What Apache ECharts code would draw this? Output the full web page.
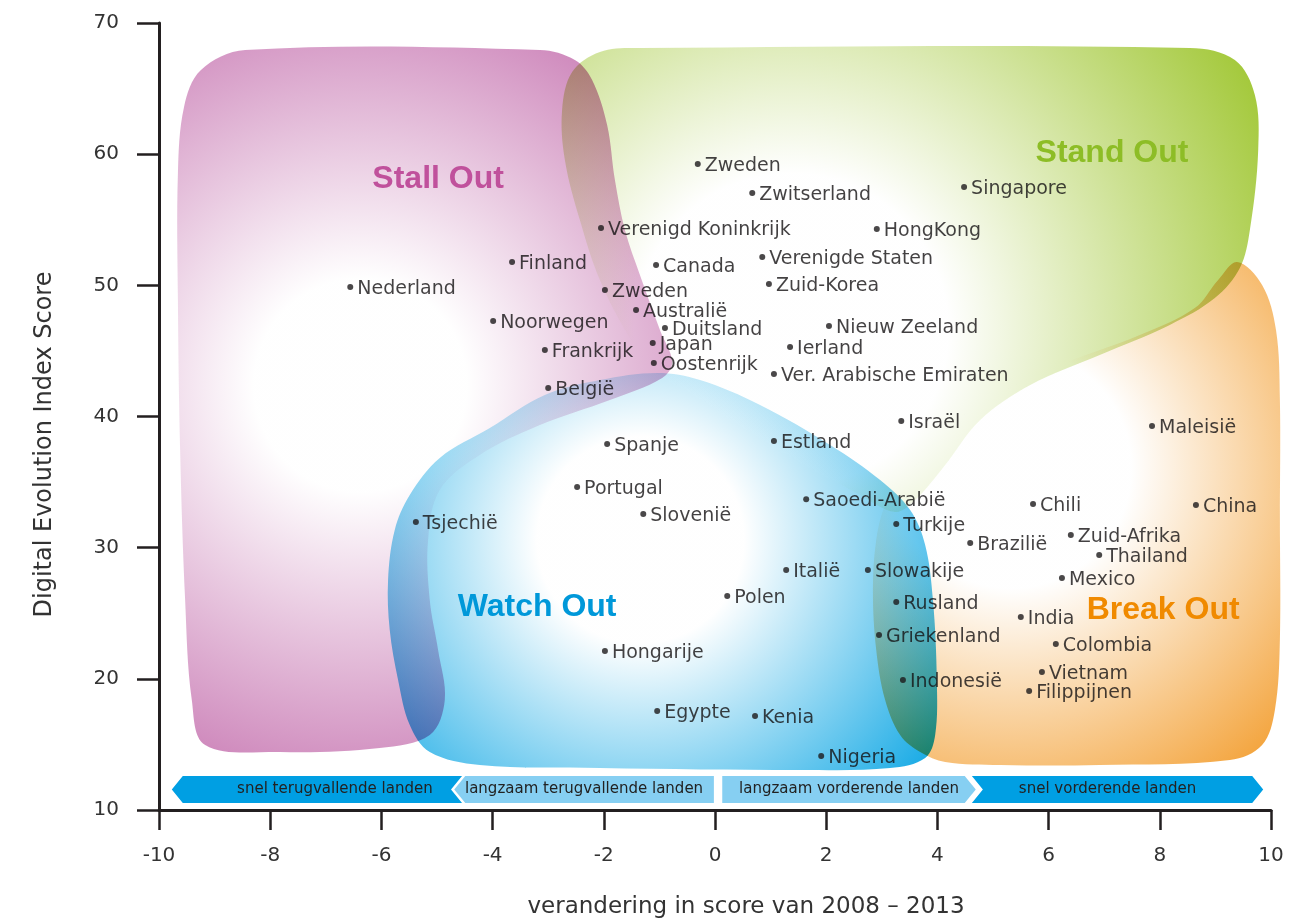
<!DOCTYPE html>
<html>
<head>
<meta charset="utf-8">
<title>Digital Evolution Index</title>
<script src="https://cdn.jsdelivr.net/npm/echarts@6/dist/echarts.min.js"></script>
<style>
	html, body { margin: 0; padding: 0; background: #fff; }
	#chart { width: 1291px; height: 921px; }
</style>
</head>
<body>
<div id="chart"></div>
<script>
// landen + scores (x = verandering 2008-2013, y = DEI score)
const countries = ['Zweden', 'Zwitserland', 'Singapore', 'Verenigd Koninkrijk', 'HongKong', 'Verenigde Staten',
	'Finland', 'Canada', 'Nederland', 'Zuid-Korea', 'Zweden', 'Australië', 'Noorwegen', 'Duitsland',
	'Nieuw Zeeland', 'Japan', 'Ierland', 'Frankrijk', 'Oostenrijk', 'Ver. Arabische Emiraten', 'België',
	'Israël', 'Maleisië', 'Spanje', 'Estland', 'Portugal', 'Saoedi-Arabië', 'Chili', 'China', 'Slovenië',
	'Tsjechië', 'Turkije', 'Zuid-Afrika', 'Brazilië', 'Thailand', 'Italië', 'Slowakije', 'Mexico',
	'Rusland', 'Polen', 'India', 'Griekenland', 'Colombia', 'Hongarije', 'Vietnam', 'Indonesië',
	'Filippijnen', 'Egypte', 'Kenia', 'Nigeria'];
const xValues = [-0.31, 0.67, 4.48, -2.05, 2.91, 0.85,
	-3.65, -1.06, -6.56, 0.97, -1.98, -1.42, -3.99, -0.90,
	2.05, -1.12, 1.35, -3.06, -1.10, 1.06, -3.00,
	3.35, 7.86, -1.94, 1.06, -2.48, 1.64, 5.72, 8.65, -1.29,
	-5.38, 3.26, 6.40, 4.59, 6.91, 1.28, 2.75, 6.24,
	3.26, 0.22, 5.50, 2.95, 6.13, -1.98, 5.88, 3.38,
	5.65, -1.04, 0.72, 1.91];
const yValues = [59.25, 57.04, 57.5, 54.37, 54.3, 52.16,
	51.78, 51.55, 49.87, 50.1, 49.65, 48.12, 47.28, 46.75,
	46.9, 45.6, 45.3, 45.07, 44.08, 43.24, 42.17,
	39.66, 39.28, 37.9, 38.13, 34.63, 33.7, 33.33, 33.25, 32.57,
	31.96, 31.8, 30.97, 30.36, 29.44, 28.3, 28.3, 27.69,
	25.86, 26.32, 24.72, 23.34, 22.66, 22.12, 20.52, 19.91,
	19.07, 17.55, 17.17, 14.12];

// de vier gebieden
const regionNames = ['Stall Out', 'Stand Out', 'Watch Out', 'Break Out'];
const regionX = [-4.98, 7.14, -3.20, 8.06];
const regionY = [58.1, 60.1, 25.5, 25.2];
const stallOutShape = [[-8.45, 67.94], [-3.15, 67.94], [-2.52, 67.18], [-2.21, 65.65], [-1.94, 62.22],
	[-1.80, 58.03], [-1.62, 54.22], [-1.35, 50.79], [-0.99, 46.60], [-0.77, 44.16], [-0.95, 42.94],
	[-1.89, 41.26], [-3.15, 39.35], [-4.23, 37.07], [-4.95, 34.40], [-5.16, 30.59], [-5.13, 26.01],
	[-4.98, 22.20], [-4.86, 18.39], [-5.13, 15.72], [-6.03, 14.73], [-7.82, 14.42], [-9.17, 14.96],
	[-9.41, 18.39], [-9.53, 26.01], [-9.62, 37.45], [-9.66, 48.88], [-9.66, 58.5], [-9.55, 63.6],
	[-9.25, 66.4]];
const standOutShape = [[-1.35, 68.09], [8.54, 68.09], [9.35, 67.18], [9.71, 64.51], [9.77, 60.32],
	[9.62, 54.22], [9.44, 51.32], [8.99, 49.03], [8.18, 46.98], [6.92, 44.69], [5.67, 42.40],
	[4.77, 39.73], [4.14, 36.30], [3.60, 33.63], [3.24, 32.72], [2.61, 34.02], [1.53, 36.53],
	[0.45, 39.35], [-0.45, 41.87], [-1.04, 43.32], [-1.53, 45.99], [-2.07, 50.41], [-2.43, 54.98],
	[-2.70, 59.56], [-2.75, 63.37], [-2.57, 66.26], [-2.07, 67.79]];
const watchOutShape = [[-1.04, 43.32], [-0.27, 42.78], [0.81, 40.88], [2.07, 37.83], [2.97, 35.16],
	[3.51, 32.87], [3.78, 30.21], [3.92, 26.01], [3.99, 19.91], [3.96, 15.72], [3.78, 13.97],
	[3.15, 13.20], [1.53, 13.05], [-2.07, 13.20], [-4.23, 13.43], [-5.13, 14.42], [-5.49, 16.48],
	[-5.70, 19.91], [-5.85, 23.72], [-5.88, 27.54], [-5.76, 31.35], [-5.49, 34.02], [-4.95, 36.84],
	[-4.05, 39.12], [-3.06, 41.64], [-2.07, 42.78]];
const breakOutShape = [[9.39, 51.78], [9.84, 50.03], [10.09, 46.60], [10.16, 41.26], [10.16, 32.11],
	[10.16, 22.96], [10.07, 17.63], [9.84, 14.96], [9.26, 13.81], [6.92, 13.43], [5.13, 13.43],
	[4.14, 13.66], [3.69, 14.42], [3.33, 15.72], [3.06, 18.39], [2.90, 22.20], [2.84, 26.77],
	[2.90, 30.59], [3.06, 33.25], [3.33, 35.01], [3.69, 36.68], [4.23, 39.35], [5.13, 41.79],
	[6.21, 43.93], [7.64, 46.21], [8.63, 48.27], [9.05, 50.41]];

// balk onderaan
const bandLabels = ['snel terugvallende landen', 'langzaam terugvallende landen', 'langzaam vorderende landen', 'snel vorderende landen'];
const bandFrom = [-9.77, -4.69, 0.13, 4.62];
const bandTo = [-4.55, -0.02, 4.69, 9.86];

const shapes = [stallOutShape, standOutShape, watchOutShape, breakOutShape];
const regionStyle = [
	{color: '#c673b0', text: '#c0519c', cx: 0.37, cy: 0.48, r: 0.86, start: 0.25},
	{color: '#9dc52c', text: '#8dbd26', cx: 0.33, cy: 0.61, r: 1.12, start: 0.3},
	{color: '#00a2e3', text: '#0098d9', cx: 0.46, cy: 0.42, r: 0.93, start: 0.28},
	{color: '#f2951c', text: '#f08a00', cx: 0.34, cy: 0.41, r: 0.98, start: 0.3},
];
const bandDark = '#009fe3';
const bandLight = '#86cff2';
const FONT = '"DejaVu Sans", sans-serif';

let chart = echarts.init(document.getElementById('chart'));

let points = countries.map((c, i) => ({name: c, value: [xValues[i], yValues[i]]}));

let renderRegion = (params, api) => {
	let i = params.dataIndex;
	let st = regionStyle[i];
	let pts = shapes[i].map(p => api.coord(p));
	return {
		type: 'polygon',
		shape: {points: pts, smooth: 0.35},
		style: {
			fill: new echarts.graphic.RadialGradient(st.cx, st.cy, st.r, [
				{offset: 0, color: '#ffffff'},
				{offset: st.start, color: '#ffffff'},
				{offset: 1, color: st.color},
			]),
			opacity: 0.92,
		},
	};
};

let renderTitle = (params, api) => {
	let i = params.dataIndex;
	let pos = api.coord([api.value(0), api.value(1)]);
	return {
		type: 'text',
		x: pos[0],
		y: pos[1],
		style: {
			text: regionNames[i],
			fill: regionStyle[i].text,
			font: 'bold 32px "Liberation Sans", Arial, sans-serif',
			align: 'center',
			verticalAlign: 'middle',
		},
	};
};

let renderBand = (params, api) => {
	let i = params.dataIndex;
	let x0 = api.coord([api.value(0), 10])[0];
	let x1 = api.coord([api.value(1), 10])[0];
	let base = api.coord([0, 10])[1];
	let top = base - 34, bottom = base - 7, mid = (top + bottom) / 2;
	let d = 11;
	let left, right;
	// vorm van de pijlen per segment
	if (i === 0 || i === 1) left = [[x0 + d, top], [x0, mid], [x0 + d, bottom]];
	else if (i === 3) left = [[x0, top], [x0 + d, mid], [x0, bottom]];
	else left = [[x0, top], [x0, bottom]];
	if (i === 2 || i === 3) right = [[x1 - d, bottom], [x1, mid], [x1 - d, top]];
	else if (i === 0) right = [[x1, bottom], [x1 - d, mid], [x1, top]];
	else right = [[x1, bottom], [x1, top]];
	let pts = left.concat(right);
	let dark = (i === 0 || i === 3);
	return {
		type: 'group',
		children: [
			{type: 'polygon', shape: {points: pts}, style: {fill: dark ? bandDark : bandLight}},
			{
				type: 'text',
				x: (x0 + x1) / 2 + (i === 0 ? 18 : 0) + (i === 3 ? -10 : 0),
				y: mid,
				style: {
					text: bandLabels[i],
					fill: '#222',
					font: '15px ' + FONT,
					align: 'center',
					verticalAlign: 'middle',
				},
			},
		],
	};
};

let option = {
	animation: false,
	grid: {left: 159, right: 20, top: 23, bottom: 111, containLabel: false, outerBoundsMode: 'none'},
	xAxis: {
		type: 'value',
		min: -10,
		max: 10,
		interval: 2,
		name: 'verandering in score van 2008 – 2013',
		nameLocation: 'middle',
		nameGap: 86,
		nameTextStyle: {color: '#333', fontSize: 23, fontFamily: FONT, padding: [0, 0, 0, 62]},
		axisLine: {onZero: false, lineStyle: {color: '#231f20', width: 3}},
		axisTick: {length: 20, lineStyle: {color: '#231f20', width: 2.5}},
		axisLabel: {color: '#333', fontSize: 20, fontFamily: FONT, margin: 36},
		splitLine: {show: false},
	},
	yAxis: {
		type: 'value',
		min: 10,
		max: 70,
		interval: 10,
		name: 'Digital Evolution Index Score',
		nameLocation: 'middle',
		nameGap: 102,
		nameTextStyle: {color: '#333', fontSize: 24, fontFamily: FONT, padding: [0, 56, 0, 0]},
		axisLine: {show: true, onZero: false, lineStyle: {color: '#231f20', width: 3}},
		axisTick: {show: true, length: 22, lineStyle: {color: '#231f20', width: 2.5}},
		axisLabel: {color: '#333', fontSize: 20, fontFamily: FONT, margin: 40},
		splitLine: {show: false},
	},
	series: [
		{
			// gekleurde vlakken, 'multiply' zodat overlap donkerder wordt
			type: 'custom',
			renderItem: renderRegion,
			data: regionX.map((x, i) => [x, regionY[i]]),
			blendMode: 'multiply',
			z: 1,
			silent: true,
		},
		{
			type: 'custom',
			renderItem: renderTitle,
			data: regionX.map((x, i) => [x, regionY[i]]),
			z: 2,
			silent: true,
		},
		{
			type: 'custom',
			renderItem: renderBand,
			data: bandFrom.map((f, i) => [f, bandTo[i]]),
			encode: {x: [0, 1]},
			z: 3,
			silent: true,
		},
		{
			type: 'scatter',
			data: points,
			symbolSize: 6,
			itemStyle: {color: '#1d1a1b'},
			z: 5,
			label: {
				show: true,
				position: 'right',
				distance: 4,
				offset: [0, 2],
				formatter: '{b}',
				color: '#141213',
				fontSize: 19,
				fontFamily: FONT,
			},
		},
	],
};

chart.setOption(option);
</script>
</body>
</html>
